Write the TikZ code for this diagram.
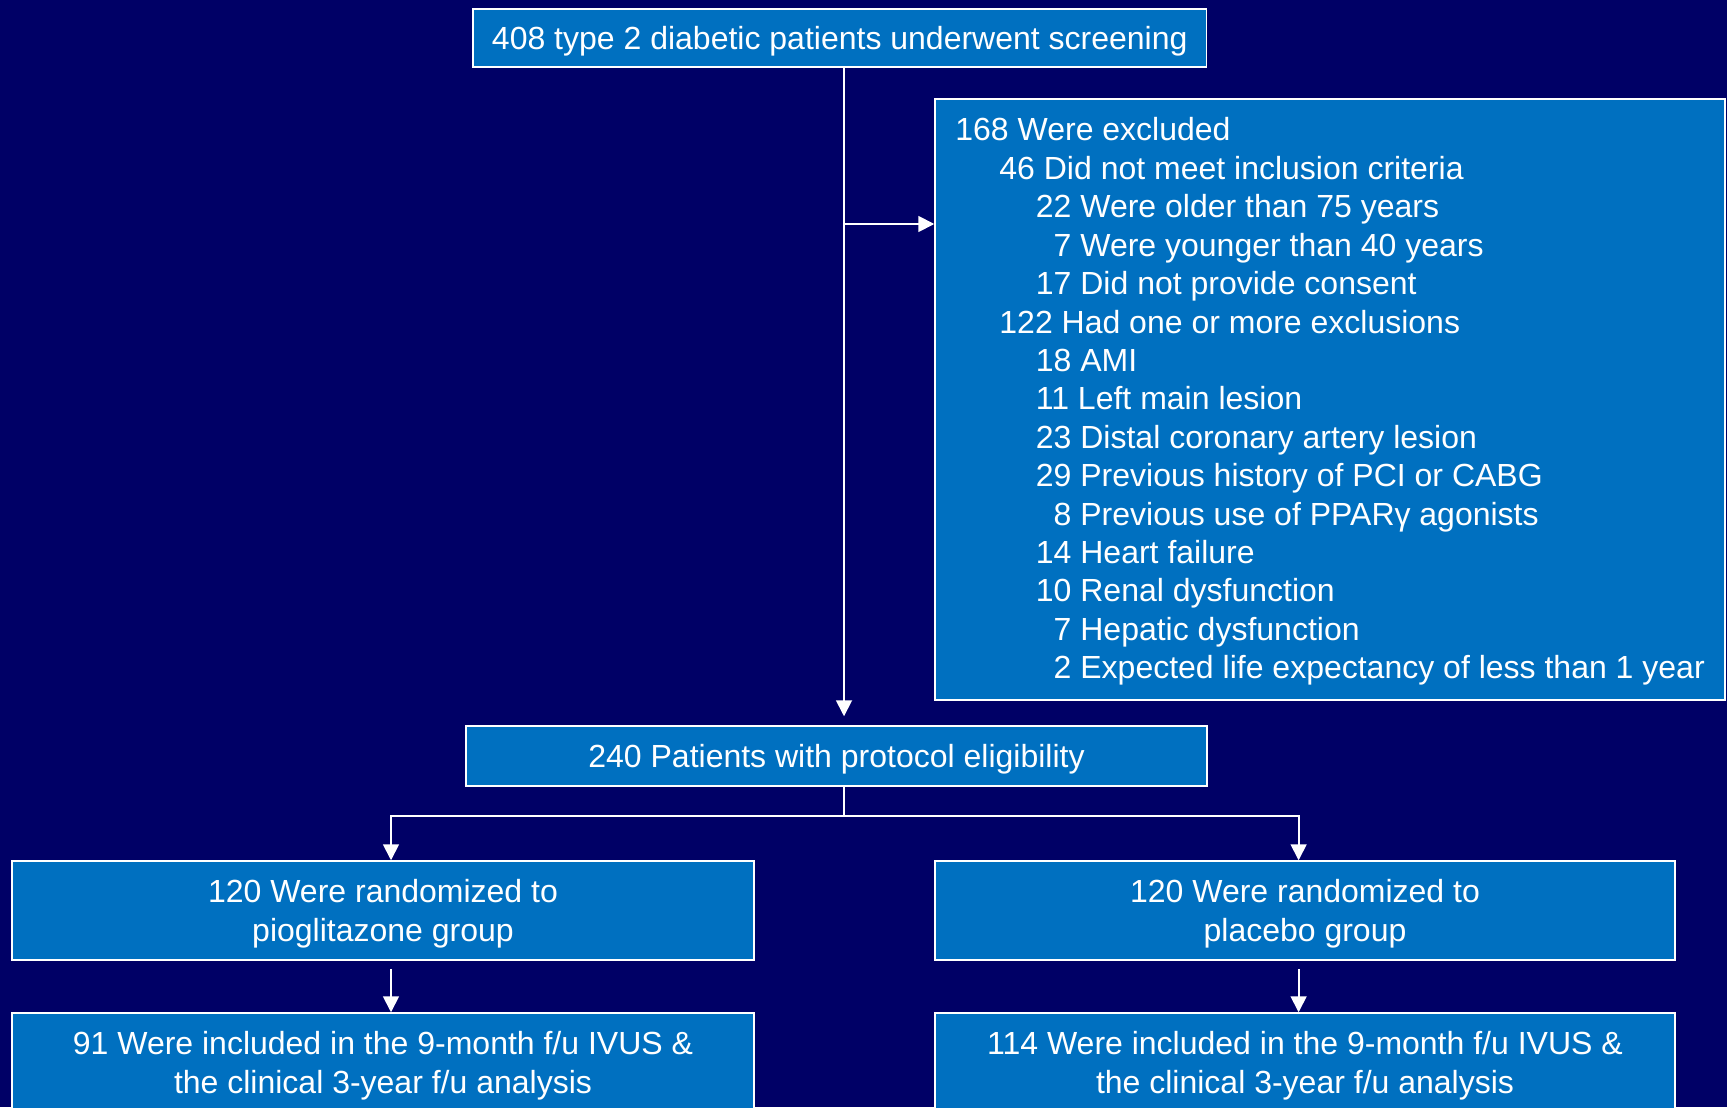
\documentclass[tikz,border=0pt]{standalone}
\usepackage{fontspec}
\setmainfont{Liberation Sans}
\usetikzlibrary{arrows.meta}
\definecolor{bg}{RGB}{0,0,102}
\definecolor{boxblue}{RGB}{0,112,192}
\begin{document}
\begin{tikzpicture}[x=0.5pt,y=-0.5pt,
  box/.style={draw=white, fill=boxblue, line width=0.75pt, inner sep=0pt, text=white, align=center,
    text depth=0pt, font=\fontsize{16}{19.2}\selectfont},
  exline/.style={anchor=base west, inner sep=0pt, text=white, font=\fontsize{16}{19.2}\selectfont},
  conn/.style={draw=white, line width=0.9pt},
  arr/.style={conn, -{Triangle[length=8pt,width=8pt]}}]
\clip (0,0) rectangle (1727,1107);
\fill[bg] (0,0) rectangle (1727,1107);
% boxes
\node[box, minimum width=366.75pt, minimum height=29pt] (top) at (839.75,38) {408 type 2 diabetic patients underwent screening};
\node[box, minimum width=395pt, minimum height=300.5pt] (excl) at (1330,399.5) {};
\node[box, minimum width=370.5pt, minimum height=30pt] (elig) at (836.5,756) {240 Patients with protocol eligibility};
\node[box, minimum width=371pt, minimum height=49.5pt] (left) at (383,910.5) {120 Were randomized to\\pioglitazone group};
\node[box, minimum width=370pt, minimum height=49.5pt] (right) at (1305,910.5) {120 Were randomized to\\placebo group};
\node[box, minimum width=371pt, minimum height=49.5pt] (bl) at (383,1062.5) {91 Were included in the 9-month f/u IVUS \&\\the clinical 3-year f/u analysis};
\node[box, minimum width=370pt, minimum height=49.5pt] (br) at (1305,1062.5) {114 Were included in the 9-month f/u IVUS \&\\the clinical 3-year f/u analysis};
% exclusion lines
\node[exline] (e1) at (955,141) {168 Were excluded};
\node[exline] (e2) at (999,179.4) {46 Did not meet inclusion criteria};
\node[exline] (e3) at (1035.5,217.8) {22 Were older than 75 years};
\node[exline] (e4) at (1035.5,256.2) {\phantom{0}7 Were younger than 40 years};
\node[exline] (e5) at (1035.5,294.6) {17 Did not provide consent};
\node[exline] (e6) at (999,333) {122 Had one or more exclusions};
\node[exline] (e7) at (1035.5,371.4) {18 AMI};
\node[exline] (e8) at (1035.5,409.8) {11 Left main lesion};
\node[exline] (e9) at (1035.5,448.2) {23 Distal coronary artery lesion};
\node[exline] (e10) at (1035.5,486.6) {29 Previous history of PCI or CABG};
\node[exline] (e11) at (1035.5,525) {\phantom{0}8 Previous use of PPARγ agonists};
\node[exline] (e12) at (1035.5,563.4) {14 Heart failure};
\node[exline] (e13) at (1035.5,601.8) {10 Renal dysfunction};
\node[exline] (e14) at (1035.5,640.2) {\phantom{0}7 Hepatic dysfunction};
\node[exline] (e15) at (1035.5,678.6) {\phantom{0}2 Expected life expectancy of less than 1 year};
% connectors
\coordinate (mx) at (844,0);
\coordinate (jx) at (844,224);
\coordinate (split) at (844,816);
\coordinate (sl) at (391,816);
\coordinate (sr) at (1298.6,816);
\draw[arr, shorten >=4.5pt] (top.south -| mx) -- (elig.north -| mx);
\draw[arr] (jx) -- (jx -| excl.west);
\draw[conn] (elig.south -| mx) -- (split);
\draw[arr] (split) -- (sl) -- (sl |- left.north);
\draw[arr] (split) -- (sr) -- (sr |- right.north);
\draw[arr, shorten <=4pt] (sl |- left.south) -- (sl |- bl.north);
\draw[arr, shorten <=4pt] (sr |- right.south) -- (sr |- br.north);
\end{tikzpicture}
\end{document}
